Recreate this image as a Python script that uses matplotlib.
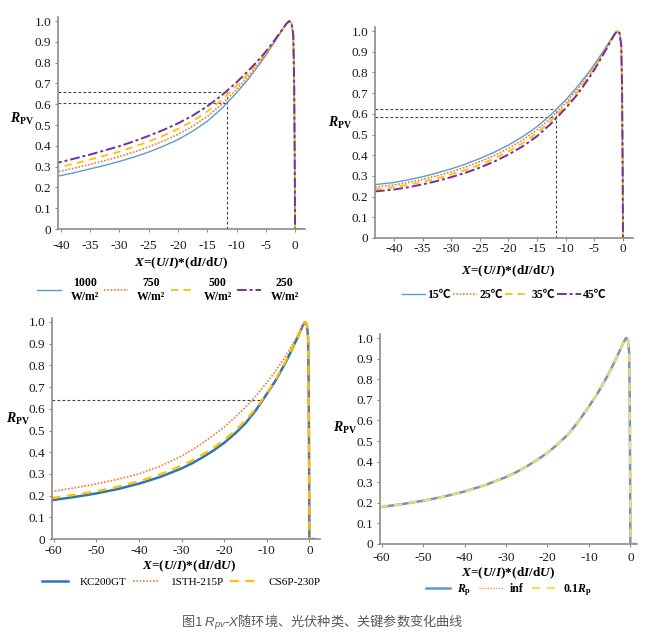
import numpy as np
from matplotlib import pyplot as plt

plt.rcParams['mathtext.fontset'] = 'custom'
plt.rcParams['mathtext.rm'] = 'Liberation Serif:bold'
plt.rcParams['mathtext.bf'] = 'Liberation Serif:bold'
plt.rcParams['mathtext.it'] = 'Liberation Serif:italic:bold'
plt.rcParams['mathtext.sf'] = 'Liberation Sans:italic'

# ---- panel 1: irradiance ----
x_irr = [-41.5, -40, -37.5, -35, -32.5, -30, -27.5, -25, -22.5, -20, -17.5, -15, -12.5, -10,
         -8, -6, -5, -4, -3, -2, -1.5, -1, -0.6, -0.3, -0.15, -0.05, 0, 1.1]
r_1000 = [0.250, 0.257, 0.272, 0.289, 0.306, 0.325, 0.346, 0.370, 0.398, 0.430, 0.470, 0.518, 0.580, 0.655,
          0.720, 0.795, 0.835, 0.877, 0.920, 0.965, 0.986, 1.0, 0.99, 0.93, 0.70, 0.30, 0, 0]
r_750 = [0.271, 0.278, 0.294, 0.311, 0.329, 0.348, 0.370, 0.395, 0.423, 0.455, 0.494, 0.541, 0.600, 0.671,
         0.733, 0.803, 0.841, 0.881, 0.922, 0.966, 0.986, 1.0, 0.99, 0.93, 0.70, 0.30, 0, 0]
r_500 = [0.292, 0.299, 0.316, 0.334, 0.353, 0.372, 0.395, 0.421, 0.449, 0.481, 0.519, 0.565, 0.621, 0.688,
         0.746, 0.811, 0.847, 0.885, 0.925, 0.966, 0.986, 1.0, 0.99, 0.93, 0.70, 0.30, 0, 0]
r_250 = [0.315, 0.322, 0.340, 0.358, 0.378, 0.398, 0.422, 0.448, 0.476, 0.508, 0.545, 0.590, 0.643, 0.705,
         0.760, 0.820, 0.853, 0.889, 0.927, 0.967, 0.986, 1.0, 0.99, 0.93, 0.70, 0.30, 0, 0]
irr_labels = ['1000\nW/m²', '750\nW/m²', '500\nW/m²', '250\nW/m²']
irr_ref_x = -11.7
irr_ref_y = [0.66, 0.605]

# ---- panel 2: temperature ----
x_tmp = [-43.3, -40, -37.5, -35, -32.5, -30, -27.5, -25, -22.5, -20, -17.5, -15, -12.5, -10,
         -8, -6, -5, -4, -3, -2, -1.5, -1, -0.6, -0.3, -0.15, -0.05, 0, 1.1]
r_15 = [0.258, 0.268, 0.281, 0.296, 0.314, 0.334, 0.357, 0.384, 0.414, 0.449, 0.490, 0.538, 0.598, 0.667,
        0.730, 0.800, 0.838, 0.879, 0.921, 0.965, 0.986, 1.0, 0.99, 0.93, 0.70, 0.30, 0, 0]
r_25 = [0.246, 0.256, 0.268, 0.283, 0.300, 0.320, 0.342, 0.369, 0.398, 0.433, 0.474, 0.522, 0.582, 0.653,
        0.717, 0.790, 0.829, 0.872, 0.916, 0.963, 0.985, 1.0, 0.99, 0.93, 0.70, 0.30, 0, 0]
r_35 = [0.236, 0.245, 0.257, 0.271, 0.287, 0.307, 0.328, 0.354, 0.383, 0.418, 0.458, 0.507, 0.568, 0.640,
        0.704, 0.780, 0.821, 0.866, 0.912, 0.960, 0.983, 1.0, 0.99, 0.93, 0.70, 0.30, 0, 0]
r_45 = [0.225, 0.234, 0.245, 0.259, 0.275, 0.294, 0.315, 0.340, 0.369, 0.403, 0.443, 0.492, 0.554, 0.627,
        0.692, 0.770, 0.813, 0.860, 0.908, 0.958, 0.982, 1.0, 0.99, 0.93, 0.70, 0.30, 0, 0]
tmp_labels = ['15℃', '25℃', '35℃', '45℃']
tmp_ref_x = -11.7
tmp_ref_y = [0.623, 0.585]

# ---- panel 3: module type ----
x_mod = [-60.5, -60, -55, -50, -45, -40, -35, -30, -27.5, -25, -22.5, -20, -17.5, -15, -12.5, -10,
         -8, -6, -5, -4, -3, -2, -1.5, -1, -0.6, -0.3, -0.15, -0.05, 0, 1.0]
r_kc200 = [0.178, 0.180, 0.194, 0.210, 0.230, 0.255, 0.286, 0.325, 0.349, 0.377, 0.408, 0.443, 0.485, 0.533, 0.595, 0.668,
           0.728, 0.798, 0.836, 0.877, 0.919, 0.963, 0.985, 1.0, 0.99, 0.93, 0.70, 0.30, 0, 0]
r_1sth = [0.218, 0.220, 0.236, 0.254, 0.275, 0.300, 0.335, 0.382, 0.411, 0.443, 0.478, 0.516, 0.560, 0.607, 0.661, 0.720,
          0.772, 0.830, 0.861, 0.895, 0.930, 0.967, 0.986, 1.0, 0.99, 0.93, 0.70, 0.30, 0, 0]
r_cs6p = [0.188, 0.190, 0.204, 0.220, 0.241, 0.266, 0.298, 0.338, 0.362, 0.390, 0.421, 0.456, 0.498, 0.546, 0.603, 0.671,
          0.733, 0.803, 0.841, 0.880, 0.922, 0.964, 0.985, 1.0, 0.99, 0.93, 0.70, 0.30, 0, 0]
mod_labels = ['KC200GT', '1STH-215P', 'CS6P-230P']
mod_ref_x = -11.0
mod_ref_y = 0.64

# ---- panel 4: shunt resistance ----
x_rp = x_mod
r_rp = [0.178, 0.180, 0.194, 0.210, 0.230, 0.255, 0.286, 0.325, 0.349, 0.377, 0.408, 0.443, 0.485, 0.533, 0.595, 0.668,
        0.728, 0.798, 0.836, 0.877, 0.919, 0.963, 0.985, 1.0, 0.99, 0.93, 0.70, 0.30, 0, 0]
r_inf = [0.178, 0.180, 0.194, 0.210, 0.230, 0.255, 0.286, 0.325, 0.349, 0.377, 0.408, 0.443, 0.485, 0.533, 0.595, 0.668,
         0.728, 0.798, 0.836, 0.877, 0.919, 0.963, 0.985, 1.0, 0.99, 0.93, 0.70, 0.30, 0, 0]
r_01rp = [0.178, 0.180, 0.194, 0.210, 0.230, 0.255, 0.286, 0.325, 0.349, 0.377, 0.408, 0.443, 0.485, 0.533, 0.595, 0.668,
          0.728, 0.798, 0.836, 0.877, 0.919, 0.963, 0.985, 1.0, 0.99, 0.93, 0.70, 0.30, 0, 0]
rp_labels = [r'$R_\mathrm{p}$', 'inf', r'0.1$R_\mathrm{p}$']

BLUE = '#5B9BD5'
BLUE_DK = '#2E75B6'
ORANGE = '#ED7D31'
YELLOW = '#FFC000'
PURPLE = '#7030A0'
SERIF = 'Liberation Serif'
XLABEL = r'$X$=($U$/$I$)*(d$I$/d$U$)'

W, H = 647, 642
fig = plt.figure(figsize=(W / 100, H / 100), dpi=100)


def make_axes(left, right, y0, y1, xlim, xpad):
    # pixel box -> figure fraction; y1 is pixel row of value 1.0
    ytop = 1.02
    ppu = y0 - y1
    ax = fig.add_axes([left / W, (H - y0) / H, (right - left) / W, ytop * ppu / H])
    ax.set_xlim(*xlim)
    ax.set_ylim(0, ytop)
    for s in ['top', 'right']:
        ax.spines[s].set_visible(False)
    for s in ['left', 'bottom']:
        ax.spines[s].set_color('#8c8c8c')
        ax.spines[s].set_linewidth(1.2)
    ax.set_yticks(np.arange(0, 1.01, 0.1))
    ax.set_yticklabels(['0'] + [f'{v:.1f}' for v in np.arange(0.1, 1.01, 0.1)], family=SERIF)
    ax.tick_params(length=2, width=0.8, color='#8c8c8c', labelsize=9.5,
                   labelcolor='#1a1a1a', pad=3)
    ax.tick_params(axis='x', pad=xpad)
    return ax


def labels(px, py, lx, ly):
    fig.text(px / W, 1 - py / H, r'$R_{\mathrm{PV}}$', fontsize=10, ha='center', va='center')
    fig.text(lx / W, 1 - ly / H, XLABEL, family=SERIF, fontweight='bold', fontsize=9.5,
             ha='center', va='center')


def ref_lines(ax, xr, ys):
    xmin = ax.get_xlim()[0]
    for y in ys:
        ax.plot([xmin, xr], [y, y], color='#404040', lw=0.8, ls=(0, (2.5, 2)))
    ax.plot([xr, xr], [0, max(ys)], color='#404040', lw=0.8, ls=(0, (2.5, 2)))


# panel 1
ax1 = make_axes(58, 305, 229, 21, (-40.5, 1.7), 6)
ax1.set_xticks(np.arange(-40, 1, 5))
ax1.set_xticklabels([str(v) for v in range(-40, 1, 5)], family=SERIF)
ref_lines(ax1, irr_ref_x, irr_ref_y)
h1 = []
h1 += ax1.plot(x_irr, r_1000, color=BLUE, lw=1.0)
h1 += ax1.plot(x_irr, r_750, color=ORANGE, lw=1.2, ls=(0, (1, 1)))
h1 += ax1.plot(x_irr, r_500, color=YELLOW, lw=1.3, ls=(0, (4, 3)))
h1 += ax1.plot(x_irr, r_250, color=PURPLE, lw=1.4, ls=(0, (5, 1.5, 1.5, 1.5)))
labels(22, 119, 181, 263)
leg1 = fig.legend(h1, irr_labels, loc='center', bbox_to_anchor=(168 / W, 1 - 290 / H), ncol=4,
                  frameon=False, handlelength=2.0, handletextpad=0.8, columnspacing=0.45,
                  prop={'family': SERIF, 'weight': 'bold', 'size': 8.5})
for t in leg1.get_texts():
    t.set_multialignment('center')

# panel 2
ax2 = make_axes(375, 633, 238, 31, (-43.3, 1.75), 1.8)
ax2.set_xticks(np.arange(-40, 1, 5))
ax2.set_xticklabels([str(v) for v in range(-40, 1, 5)], family=SERIF)
ref_lines(ax2, tmp_ref_x, tmp_ref_y)
h2 = []
h2 += ax2.plot(x_tmp, r_15, color=BLUE, lw=1.0)
h2 += ax2.plot(x_tmp, r_25, color=ORANGE, lw=1.2, ls=(0, (1, 1)))
h2 += ax2.plot(x_tmp, r_35, color=YELLOW, lw=1.3, ls=(0, (4, 3)))
h2 += ax2.plot(x_tmp, r_45, color=PURPLE, lw=1.4, ls=(0, (5, 1.5, 1.5, 1.5)))
labels(340, 123, 508, 271)
fig.legend(h2, tmp_labels, loc='center', bbox_to_anchor=(504 / W, 1 - 295 / H), ncol=4,
           frameon=False, handlelength=2.0, handletextpad=0.2, columnspacing=0.2,
           prop={'family': [SERIF, 'Noto Sans CJK SC'], 'weight': 'bold', 'size': 8.5})

# panel 3
ax3 = make_axes(52, 320, 539, 322, (-60.4, 2.5), 2.5)
ax3.set_xticks(np.arange(-60, 1, 10))
ax3.set_xticklabels([str(v) for v in range(-60, 1, 10)], family=SERIF)
ax3.plot([ax3.get_xlim()[0], mod_ref_x], [mod_ref_y, mod_ref_y], color='#404040', lw=0.8,
         ls=(0, (2.5, 2)))
h3 = []
h3 += ax3.plot(x_mod, r_kc200, color=BLUE_DK, lw=1.8)
h3 += ax3.plot(x_mod, r_1sth, color=ORANGE, lw=1.2, ls=(0, (1, 1)))
h3 += ax3.plot(x_mod, r_cs6p, color=YELLOW, lw=1.6, ls=(0, (4, 3)))
labels(18, 419, 189, 566)
fig.legend(h3, mod_labels, loc='center', bbox_to_anchor=(181 / W, 1 - 582 / H), ncol=3,
           frameon=False, handlelength=2.4, handletextpad=1.0, columnspacing=0.6,
           prop={'family': SERIF, 'size': 8})

# panel 4
ax4 = make_axes(380, 637, 544, 338, (-60.4, 1.6), 4)
ax4.set_xticks(np.arange(-60, 1, 10))
ax4.set_xticklabels([str(v) for v in range(-60, 1, 10)], family=SERIF)
h4 = []
h4 += ax4.plot(x_rp, r_rp, color=BLUE, lw=1.8)
h4 += ax4.plot(x_rp, r_inf, color=ORANGE, lw=1.0, ls=(0, (1, 1)), alpha=0.8)
h4 += ax4.plot(x_rp, r_01rp, color='#FFD966', lw=1.5, ls=(0, (4, 3)))
labels(345, 428, 508, 573)
fig.legend(h4, rp_labels, loc='center', bbox_to_anchor=(509 / W, 1 - 590 / H), ncol=3,
           frameon=False, handlelength=2.0, handletextpad=0.6, columnspacing=0.7,
           prop={'family': SERIF, 'weight': 'bold', 'size': 8.5})

fig.text(322 / W, 1 - 622 / H, r'图1 $\mathsf{R}_{\mathsf{pv}}$-$\mathsf{X}$随环境、光伏种类、关键参数变化曲线',
         ha='center', va='center', fontsize=9.5, color='#595959',
         family=['Noto Sans CJK SC', 'DejaVu Sans'])

fig.savefig('out.png', dpi=100)
